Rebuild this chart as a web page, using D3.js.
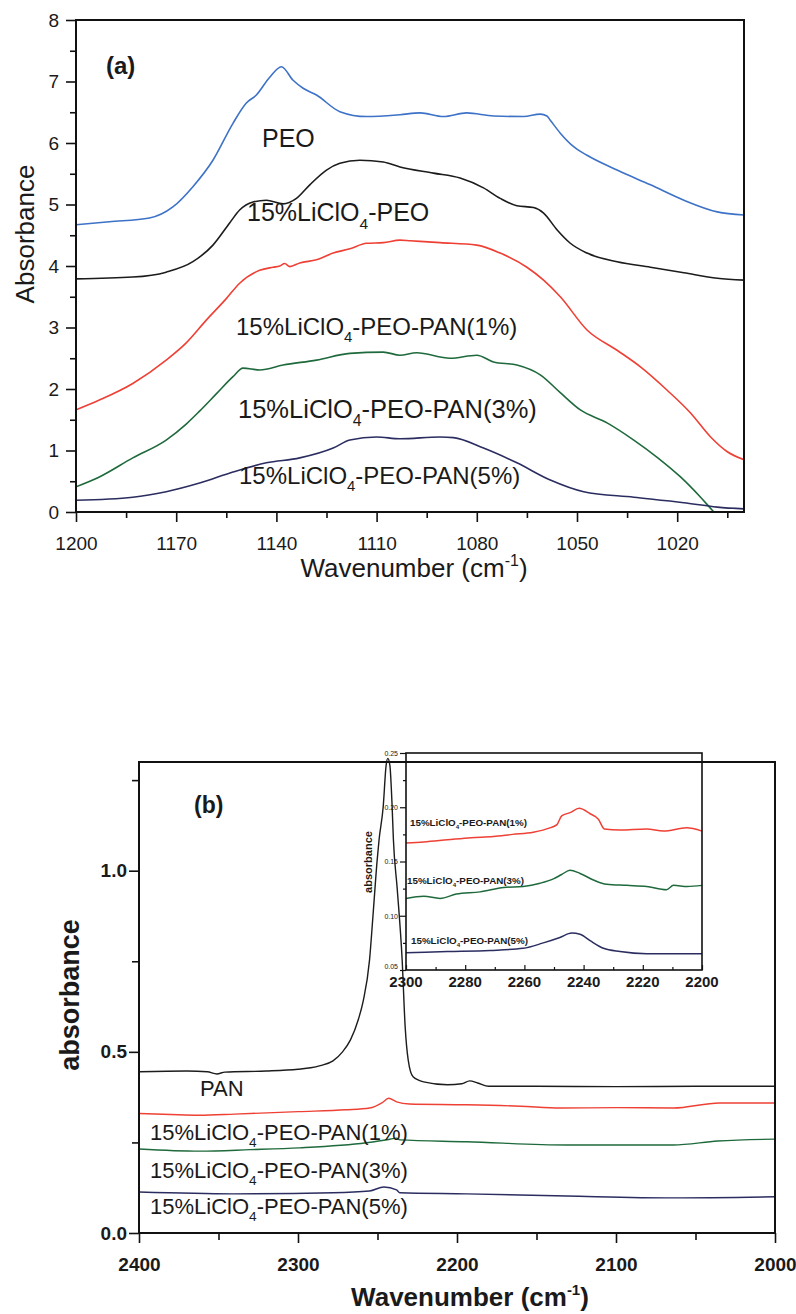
<!DOCTYPE html>
<html lang="en">
<head>
<meta charset="UTF-8">
<title>FTIR spectra</title>
<script src="https://d3js.org/d3.v7.min.js"></script>
<style>
  body { margin: 0; padding: 0; background: #fff; }
  svg { display: block; font-family: "Liberation Sans", Arial, sans-serif; }
</style>
</head>
<body>
<script>
// ---------- panel (a) data: [wavenumber, absorbance] ----------
const peo = [[1200,4.67],[1190,4.72],[1178,4.78],[1171,4.96],[1165,5.29],[1159,5.72],[1153,6.32],[1149,6.65],[1146,6.78],
  [1142,7.07],[1138.5,7.24],[1135,7.02],[1132,6.89],[1128,6.78],[1121,6.51],[1113,6.43],[1103,6.46],[1097,6.49],[1090,6.43],
  [1083,6.49],[1075,6.44],[1066,6.43],[1061,6.47],[1059,6.44],[1058,6.37],[1055,6.16],[1051,5.94],[1047,5.8],[1038,5.56],
  [1028,5.32],[1018,5.07],[1008,4.88],[1000,4.83]];
const liPeo = [[1200,3.79],[1183,3.82],[1173,3.9],[1165,4.07],[1159,4.34],[1154,4.70],[1151,4.91],[1147,5.04],[1143,5.07],
  [1138,5.01],[1134,5.10],[1130,5.32],[1125,5.56],[1121,5.67],[1115,5.72],[1108,5.69],[1103,5.61],[1093,5.51],[1085,5.43],
  [1078,5.27],[1073,5.10],[1068,4.98],[1063,4.95],[1060,4.86],[1056,4.59],[1052,4.37],[1047,4.21],[1038,4.07],[1028,3.98],
  [1018,3.89],[1008,3.80],[1000,3.77]];
const pan1a = [[1200,1.66],[1193,1.82],[1183,2.09],[1173,2.47],[1167,2.75],[1161,3.12],[1155,3.47],[1151,3.72],[1145,3.93],
  [1141,3.98],[1139,4.0],[1137.5,4.04],[1136,3.99],[1133,4.05],[1128,4.1],[1123,4.21],[1118,4.28],[1113,4.37],[1108,4.38],
  [1103,4.42],[1100,4.41],[1091,4.38],[1080,4.34],[1073,4.21],[1065,3.98],[1060,3.77],[1055,3.50],[1047,2.96],[1038,2.63],
  [1031,2.36],[1023,1.98],[1016,1.61],[1010,1.22],[1005,0.98],[1000,0.85]];
const pan3a = [[1200,0.41],[1193,0.57],[1183,0.88],[1173,1.17],[1167,1.43],[1163,1.64],[1158,1.92],[1153,2.2],[1150,2.34],
  [1145,2.31],[1138,2.39],[1128,2.47],[1118,2.58],[1108,2.60],[1103,2.55],[1098,2.59],[1088,2.50],[1080,2.55],[1075,2.44],
  [1068,2.39],[1061,2.23],[1055,1.94],[1049,1.66],[1041,1.45],[1033,1.17],[1026,0.89],[1019,0.57],[1013,0.24],[1009,0.0],
  [1007.5,-0.08]];
const pan5a = [[1200,0.19],[1183,0.24],[1173,0.33],[1163,0.47],[1153,0.65],[1143,0.80],[1133,0.88],[1123,1.04],[1118,1.17],
  [1110,1.22],[1103,1.19],[1091,1.22],[1087,1.21],[1078,1.04],[1068,0.80],[1058,0.52],[1048,0.33],[1033,0.24],[1018,0.15],
  [1008,0.08],[1000,0.05]];
const xTicksA = [1200,1170,1140,1110,1080,1050,1020];
const xMinorA = [1185,1155,1125,1095,1065,1035,1005];
const yTicksA = [0,1,2,3,4,5,6,7,8];
const yMinorA = [0.5,1.5,2.5,3.5,4.5,5.5,6.5,7.5];

// ---------- panel (b) data ----------
const panB = [[2400,0.445],[2370,0.447],[2357,0.445],[2351,0.439],[2346,0.444],[2320,0.447],[2300,0.452],[2292,0.456],
  [2286,0.462],[2278,0.475],[2272,0.50],[2267,0.533],[2262,0.59],[2259,0.64],[2255,0.754],[2252.7,0.884],[2250.2,1.03],
  [2249,1.086],[2246.4,1.177],[2244.6,1.29],[2243.5,1.31],[2242.2,1.29],[2240.8,1.177],[2240,1.086],[2237.6,0.95],
  [2234.5,0.754],[2232.6,0.569],[2230.7,0.478],[2227.6,0.431],[2221,0.417],[2206,0.409],[2197,0.412],[2192,0.42],
  [2187,0.414],[2180,0.405],[2150,0.405],[2100,0.404],[2050,0.405],[2000,0.405]];
const pan1b = [[2400,0.33],[2380,0.327],[2362,0.325],[2340,0.328],[2300,0.335],[2270,0.34],[2255,0.345],[2247,0.36],
  [2243,0.372],[2238,0.362],[2230,0.356],[2194,0.354],[2160,0.35],[2135,0.345],[2100,0.346],[2064,0.345],[2035,0.359],
  [2000,0.359]];
const pan3b = [[2400,0.232],[2362,0.226],[2330,0.23],[2299,0.235],[2257,0.249],[2243,0.258],[2238,0.262],[2236,0.257],
  [2194,0.252],[2131,0.243],[2064,0.243],[2036,0.254],[2000,0.259]];
const pan5b = [[2400,0.113],[2341,0.108],[2278,0.111],[2255,0.116],[2246,0.127],[2238,0.119],[2236,0.111],[2194,0.108],
  [2131,0.102],[2064,0.097],[2000,0.1]];
const xTicksB = [2400,2300,2200,2100,2000];
const xMinorB = [2350,2250,2150,2050];
const yTicksB = [0,0.5,1.0];
const yMinorB = [0.25,0.75,1.25];

// ---------- inset data ----------
const pan1i = [[2300,0.167],[2294,0.168],[2286,0.170],[2278,0.172],[2270.5,0.173],[2264,0.175],[2257,0.177],[2251.4,0.181],
  [2249,0.184],[2247.4,0.192],[2244.6,0.195],[2241.5,0.199],[2237.8,0.194],[2235,0.189],[2233,0.180],[2227.7,0.179],
  [2218.7,0.180],[2213,0.178],[2205.2,0.181],[2200,0.178]];
const pan3i = [[2300,0.116],[2294,0.118],[2288.5,0.116],[2283,0.120],[2275,0.122],[2267,0.126],[2260.4,0.127],[2254.7,0.130],
  [2250.2,0.134],[2247.4,0.138],[2244.6,0.142],[2241.2,0.139],[2236.7,0.133],[2232.2,0.129],[2225.4,0.128],[2218.7,0.127],
  [2212,0.124],[2209.6,0.128],[2205,0.127],[2200,0.128]];
const pan5i = [[2300,0.066],[2286,0.067],[2271.6,0.068],[2260.4,0.070],[2253.6,0.075],[2248,0.080],[2244,0.084],
  [2241.2,0.083],[2237.8,0.077],[2233.3,0.070],[2227.7,0.067],[2218.7,0.065],[2200,0.065]];
const xTicksI = [2300,2280,2260,2240,2220,2200];
const xMinorI = [2290,2270,2250,2230,2210];
const yTicksI = [0.05,0.10,0.15,0.20,0.25];
const yMinorI = [0.075,0.125,0.175,0.225];

const colors = { blue: "#3d72c7", black: "#1c1c1c", red: "#ee4035", green: "#1f6a3c", navy: "#2b2d60" };

const svg = d3.select("body").append("svg").attr("width", 796).attr("height", 1314);
svg.append("rect").attr("width", 796).attr("height", 1314).attr("fill", "#fff");

function chemLabel(g, x, y, size, weight, pre, post) {
  const t = g.append("text").attr("x", x).attr("y", y)
    .attr("font-size", size).attr("font-weight", weight).attr("fill", "#1a1a1a");
  t.append("tspan").text(pre);
  t.append("tspan").attr("font-size", size * 0.62).attr("dy", size * 0.3).text("4");
  t.append("tspan").attr("dy", -size * 0.3).text(post);
  return t;
}

function styleAxis(g, size, weight) {
  g.select(".domain").remove();
  g.selectAll(".tick line").attr("stroke", "#111").attr("stroke-width", 1.6);
  g.selectAll("text").attr("font-family", "'Liberation Sans', Arial, sans-serif")
    .attr("font-size", size).attr("font-weight", weight).attr("fill", "#1a1a1a");
}

function panel(opt) {
  const g = svg.append("g");
  const x = opt.x, y = opt.y;
  const [x0, x1] = x.range(), [y0, y1] = y.range();
  const clipId = "clip" + Math.round(x0) + Math.round(y0);
  if (opt.clip) {
    svg.append("clipPath").attr("id", clipId).append("rect")
      .attr("x", x0).attr("y", y1).attr("width", x1 - x0).attr("height", y0 - y1);
  }
  // minor ticks
  g.append("g").attr("transform", `translate(0,${y0})`)
    .call(d3.axisBottom(x).tickValues(opt.xMinor).tickSize(opt.minorLen).tickFormat(""))
    .call(a => styleAxis(a, opt.tickFont, opt.tickWeight));
  g.append("g").attr("transform", `translate(${x0},0)`)
    .call(d3.axisLeft(y).tickValues(opt.yMinor).tickSize(opt.minorLen).tickFormat(""))
    .call(a => styleAxis(a, opt.tickFont, opt.tickWeight));
  // major ticks
  g.append("g").attr("transform", `translate(0,${y0})`)
    .call(d3.axisBottom(x).tickValues(opt.xTicks).tickSize(opt.majorLen).tickPadding(opt.xPad).tickFormat(opt.xFmt))
    .call(a => styleAxis(a, opt.tickFont, opt.tickWeight));
  g.append("g").attr("transform", `translate(${x0},0)`)
    .call(d3.axisLeft(y).tickValues(opt.yTicks).tickSize(opt.majorLen).tickPadding(opt.yPad).tickFormat(opt.yFmt))
    .call(a => styleAxis(a, opt.tickFont, opt.tickWeight));

  const line = d3.line().x(d => x(d[0])).y(d => y(d[1])).curve(d3.curveMonotoneX);
  const lines = g.append("g");
  if (opt.clip) lines.attr("clip-path", `url(#${clipId})`);
  opt.series.forEach(s => {
    lines.append("path").datum(s.data).attr("d", line)
      .attr("fill", "none").attr("stroke", s.color).attr("stroke-width", opt.lineWidth)
      .attr("stroke-linejoin", "round");
  });
  g.append("rect").attr("x", x0).attr("y", y1).attr("width", x1 - x0).attr("height", y0 - y1)
    .attr("fill", "none").attr("stroke", "#111").attr("stroke-width", 2);
  return g;
}

// ===== panel (a) =====
const xA = d3.scaleLinear().domain([1200, 1000]).range([76, 744]);
const yA = d3.scaleLinear().domain([0, 8]).range([512, 20]);
const gA = panel({
  x: xA, y: yA, xTicks: xTicksA, xMinor: xMinorA, yTicks: yTicksA, yMinor: yMinorA,
  majorLen: 10, minorLen: 6, xPad: 15, yPad: 7, tickFont: 19, tickWeight: "normal",
  xFmt: d3.format("d"), yFmt: d3.format("d"), lineWidth: 1.6, clip: true,
  series: [
    { data: peo, color: colors.blue }, { data: liPeo, color: colors.black },
    { data: pan1a, color: colors.red }, { data: pan3a, color: colors.green },
    { data: pan5a, color: colors.navy }
  ]
});
gA.append("text").attr("x", 106).attr("y", 74).attr("font-size", 24).attr("font-weight", "bold")
  .attr("fill", "#1a1a1a").text("(a)");
gA.append("text").attr("x", 262).attr("y", 147).attr("font-size", 25).attr("fill", "#1a1a1a").text("PEO");
chemLabel(gA, 247, 221, 25, "normal", "15%LiClO", "-PEO");
chemLabel(gA, 236, 335, 24, "normal", "15%LiClO", "-PEO-PAN(1%)");
chemLabel(gA, 238, 418, 25.5, "normal", "15%LiClO", "-PEO-PAN(3%)");
chemLabel(gA, 239, 484, 24, "normal", "15%LiClO", "-PEO-PAN(5%)");
gA.append("text").attr("transform", "translate(34,234) rotate(-90)").attr("text-anchor", "middle")
  .attr("font-size", 26).attr("fill", "#1a1a1a").text("Absorbance");
const xlA = gA.append("text").attr("x", 414).attr("y", 577).attr("text-anchor", "middle")
  .attr("font-size", 26).attr("fill", "#1a1a1a");
xlA.append("tspan").text("Wavenumber (cm");
xlA.append("tspan").attr("font-size", 16).attr("dy", -11).text("-1");
xlA.append("tspan").attr("dy", 11).text(")");

// ===== panel (b) =====
const xB = d3.scaleLinear().domain([2400, 2000]).range([139, 775]);
const yB = d3.scaleLinear().domain([0, 1.3]).range([1233, 762]);
const gB = panel({
  x: xB, y: yB, xTicks: xTicksB, xMinor: xMinorB, yTicks: yTicksB, yMinor: yMinorB,
  majorLen: 10, minorLen: 7, xPad: 15, yPad: 2, tickFont: 19, tickWeight: "bold",
  xFmt: d3.format("d"), yFmt: d3.format(".1f"), lineWidth: 1.4, clip: false,
  series: [
    { data: panB, color: colors.black }, { data: pan1b, color: colors.red },
    { data: pan3b, color: colors.green }, { data: pan5b, color: colors.navy }
  ]
});
gB.append("text").attr("x", 194).attr("y", 813).attr("font-size", 23).attr("font-weight", "bold")
  .attr("fill", "#1a1a1a").text("(b)");
gB.append("text").attr("x", 200).attr("y", 1096).attr("font-size", 22).attr("fill", "#1a1a1a").text("PAN");
chemLabel(gB, 150, 1140, 22, "normal", "15%LiClO", "-PEO-PAN(1%)");
chemLabel(gB, 150, 1178, 22, "normal", "15%LiClO", "-PEO-PAN(3%)");
chemLabel(gB, 150, 1214, 22, "normal", "15%LiClO", "-PEO-PAN(5%)");
gB.append("text").attr("transform", "translate(79,995) rotate(-90)").attr("text-anchor", "middle")
  .attr("font-size", 27).attr("font-weight", "bold").attr("fill", "#1a1a1a").text("absorbance");
const xlB = gB.append("text").attr("x", 470).attr("y", 1306).attr("text-anchor", "middle")
  .attr("font-size", 26).attr("font-weight", "bold").attr("fill", "#1a1a1a");
xlB.append("tspan").text("Wavenumber (cm");
xlB.append("tspan").attr("font-size", 15).attr("dy", -11).text("-1");
xlB.append("tspan").attr("dy", 11).text(")");

// ===== inset =====
const xI = d3.scaleLinear().domain([2300, 2200]).range([406, 702]);
const yI = d3.scaleLinear().domain([0.05, 0.25]).range([970, 753]);
const gI = svg.append("g");
const lineI = d3.line().x(d => xI(d[0])).y(d => yI(d[1])).curve(d3.curveMonotoneX);
[[pan1i, colors.red], [pan3i, colors.green], [pan5i, colors.navy]].forEach(([data, c]) => {
  gI.append("path").datum(data).attr("d", lineI).attr("fill", "none")
    .attr("stroke", c).attr("stroke-width", 1.5);
});
gI.append("rect").attr("x", 406).attr("y", 753).attr("width", 296).attr("height", 217)
  .attr("fill", "none").attr("stroke", "#111").attr("stroke-width", 1.6);
// inset x axis: ticks point inward
gI.append("g").attr("transform", "translate(0,970)")
  .call(d3.axisTop(xI).tickValues(xMinorI).tickSize(3).tickFormat(""))
  .call(a => styleAxis(a, 8, "normal"));
gI.append("g").attr("transform", "translate(0,970)")
  .call(d3.axisTop(xI).tickValues(xTicksI).tickSize(5).tickFormat(""))
  .call(a => styleAxis(a, 8, "normal"));
gI.selectAll(".xlab").data(xTicksI).enter().append("text")
  .attr("x", d => xI(d)).attr("y", 987).attr("text-anchor", "middle")
  .attr("font-size", 15).attr("font-weight", "bold").attr("fill", "#1a1a1a").text(d => d);
// inset y axis: ticks point outward
gI.append("g").attr("transform", "translate(406,0)")
  .call(d3.axisLeft(yI).tickValues(yMinorI).tickSize(3).tickFormat(""))
  .call(a => styleAxis(a, 7, "normal"));
const yAxI = gI.append("g").attr("transform", "translate(406,0)")
  .call(d3.axisLeft(yI).tickValues(yTicksI).tickSize(6).tickPadding(2).tickFormat(d3.format(".2f")))
  .call(a => styleAxis(a, 7, "normal"));
yAxI.selectAll("text").filter(d => d === 0.05).attr("dy", "-0.2em");
gI.selectAll("line").attr("stroke-width", 1.2);
gI.append("text").attr("transform", "translate(372,862) rotate(-90)").attr("text-anchor", "middle")
  .attr("font-size", 11).attr("font-weight", "bold").attr("fill", "#1a1a1a").text("absorbance");
chemLabel(gI, 410, 826, 9.8, "bold", "15%LiClO", "-PEO-PAN(1%)");
chemLabel(gI, 407, 884, 9.8, "bold", "15%LiClO", "-PEO-PAN(3%)");
chemLabel(gI, 411, 944, 9.8, "bold", "15%LiClO", "-PEO-PAN(5%)");
</script>
</body>
</html>
